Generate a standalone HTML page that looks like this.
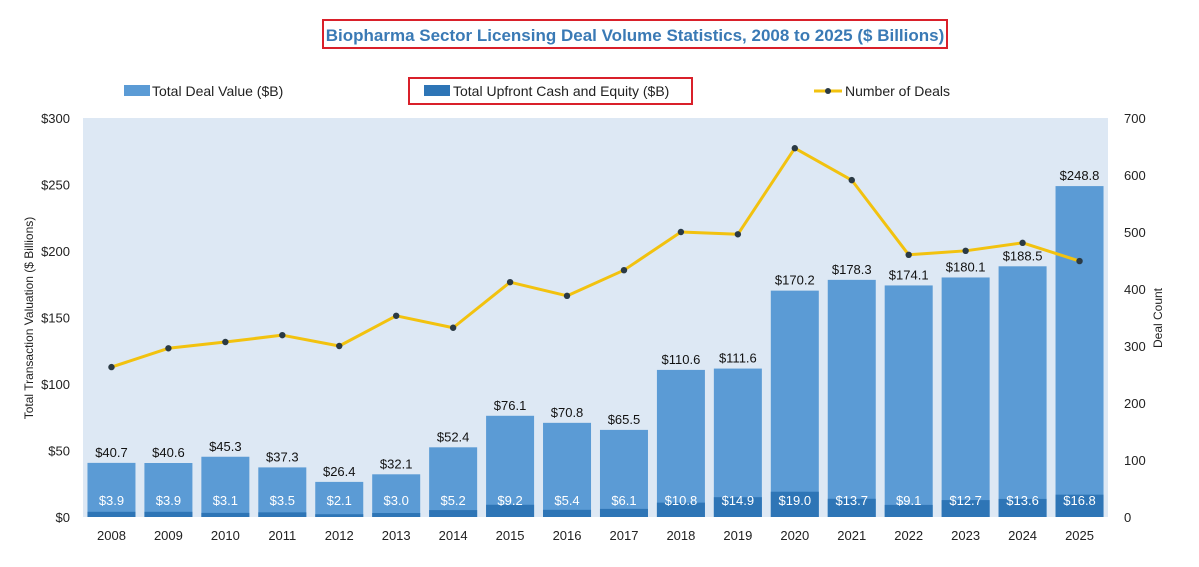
<!DOCTYPE html>
<html><head><meta charset="utf-8"><style>
body{margin:0;background:#fff;font-family:"Liberation Sans",sans-serif;}
svg text{font-family:"Liberation Sans",sans-serif;}
</style></head><body>
<svg id="chart" width="1199" height="562" xmlns="http://www.w3.org/2000/svg">
<rect x="323" y="20" width="624" height="28" fill="none" stroke="#d9202a" stroke-width="2"/>
<text x="635" y="41" text-anchor="middle" font-size="17" font-weight="bold" fill="#3a7ab5">Biopharma Sector Licensing Deal Volume Statistics, 2008 to 2025 ($ Billions)</text>
<g>
<rect x="124" y="85" width="26" height="11" fill="#5b9bd5"/>
<text x="152" y="96" font-size="14" fill="#222">Total Deal Value ($B)</text>
<rect x="409" y="78" width="283" height="26" fill="none" stroke="#d9202a" stroke-width="2"/>
<rect x="424" y="85" width="26" height="11" fill="#2e75b6"/>
<text x="453" y="96" font-size="14" fill="#222">Total Upfront Cash and Equity ($B)</text>
<line x1="814" y1="91" x2="842" y2="91" stroke="#f2c20f" stroke-width="3"/>
<circle cx="828" cy="91" r="3" fill="#2b3a44"/>
<text x="845" y="96" font-size="14" fill="#222">Number of Deals</text>
</g>
<rect x="83" y="118" width="1025" height="399" fill="#dde8f4"/>
<g id="grid"></g><g id="bars"></g><g id="line"></g><g id="axes"></g>
<text transform="translate(33,318) rotate(-90)" text-anchor="middle" font-size="12" fill="#222">Total Transaction Valuation ($ Billions)</text>
<text transform="translate(1162,318) rotate(-90)" text-anchor="middle" font-size="12" fill="#222">Deal Count</text>
</svg>
<script>
const years=["2008","2009","2010","2011","2012","2013","2014","2015","2016","2017","2018","2019","2020","2021","2022","2023","2024","2025"];
const totalValue=[40.7,40.6,45.3,37.3,26.4,32.1,52.4,76.1,70.8,65.5,110.6,111.6,170.2,178.3,174.1,180.1,188.5,248.8];
const upfront=[3.9,3.9,3.1,3.5,2.1,3.0,5.2,9.2,5.4,6.1,10.8,14.9,19.0,13.7,9.1,12.7,13.6,16.8];
const deals=[263,296,307,319,300,353,332,412,388,433,500,496,647,591,460,467,481,449];
const leftTicks=[0,50,100,150,200,250,300];
const rightTicks=[0,100,200,300,400,500,600,700];
const NS="http://www.w3.org/2000/svg";
const X0=83,X1=1108,Y0=517,Y1=118;
const step=(X1-X0)/years.length;
const xc=i=>X0+step*(i+0.5);
const yL=v=>Y0-(v/300)*(Y0-Y1);
const yR=v=>Y0-(v/700)*(Y0-Y1);
function mk(tag,attrs,parent,txt){const e=document.createElementNS(NS,tag);for(const k in attrs)e.setAttribute(k,attrs[k]);if(txt!==undefined)e.textContent=txt;document.getElementById(parent).appendChild(e);return e;}
leftTicks.forEach(t=>{
 const e=mk('text',{x:70,y:yL(t)+5,'text-anchor':'end','font-size':13,fill:'#222'},'axes','$'+t);
 
 
});
rightTicks.forEach(t=>{
 const e=mk('text',{x:1124,y:yR(t)+5,'font-size':13,fill:'#222'},'axes',String(t));
 
 
});
const bw=48;
years.forEach((y,i)=>{
 const x=xc(i);
 let r=mk('rect',{x:x-bw/2,y:yL(totalValue[i]),width:bw,height:Y0-yL(totalValue[i]),fill:'#5b9bd5'},'bars');
 
 
 r=mk('rect',{x:x-bw/2,y:yL(upfront[i]),width:bw,height:Y0-yL(upfront[i]),fill:'#2e75b6'},'bars');
 
 
 let t=mk('text',{x:x,y:yL(totalValue[i])-6,'text-anchor':'middle','font-size':13,fill:'#111'},'bars','$'+totalValue[i].toFixed(1));
 
 
 t=mk('text',{x:x,y:Y0-12,'text-anchor':'middle','font-size':13,fill:'#fff'},'bars','$'+upfront[i].toFixed(1));
 
 
 t=mk('text',{x:x,y:540,'text-anchor':'middle','font-size':13,fill:'#222'},'axes',y);
 
 
});
const pts=deals.map((d,i)=>xc(i)+','+yR(d)).join(' ');
const pl=mk('polyline',{points:pts,fill:'none',stroke:'#f2c20f','stroke-width':3,'stroke-linejoin':'round'},'line');


deals.forEach((d,i)=>{
 const c=mk('circle',{cx:xc(i),cy:yR(d),r:3.2,fill:'#2b3a44'},'line');
 
 
});
</script>
</body></html>
